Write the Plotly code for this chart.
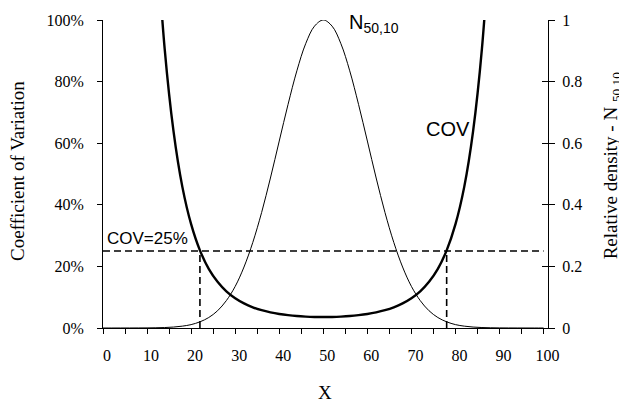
import plotly.graph_objects as go

# ---- data ----
dens_x = [0, 2, 4, 6, 8, 10, 12, 14, 16, 18, 20, 22, 24, 26, 28, 30, 32, 34, 36, 38, 40, 42, 44, 46, 48, 50,
          52, 54, 56, 58, 60, 62, 64, 66, 68, 70, 72, 74, 76, 78, 80, 82, 84, 86, 88, 90, 92, 94, 96, 98, 100]
dens_y = [0.0, 0.0, 0.00003, 0.00006, 0.00015, 0.00034, 0.00073, 0.0015, 0.0031, 0.006, 0.011, 0.020, 0.034,
          0.056, 0.089, 0.135, 0.198, 0.278, 0.375, 0.487, 0.607, 0.726, 0.835, 0.923, 0.980, 1.0,
          0.980, 0.923, 0.835, 0.726, 0.607, 0.487, 0.375, 0.278, 0.198, 0.135, 0.089, 0.056, 0.034, 0.020,
          0.011, 0.006, 0.0031, 0.0015, 0.00073, 0.00034, 0.00015, 0.00006, 0.00003, 0.0, 0.0]

cov_x = [12, 14, 16, 18, 20, 22, 24, 26, 28, 30, 32, 34, 36, 38, 40, 42, 44, 46, 48, 50,
         52, 54, 56, 58, 60, 62, 64, 66, 68, 70, 72, 74, 76, 78, 80, 82, 84, 86, 88]
cov_y = [1.31, 0.906, 0.639, 0.459, 0.337, 0.252, 0.192, 0.150, 0.119, 0.0965, 0.0798, 0.0673, 0.058, 0.0509,
         0.0456, 0.0417, 0.0388, 0.037, 0.0359, 0.0355, 0.0359, 0.037, 0.0388, 0.0417, 0.0456, 0.0509, 0.058,
         0.0673, 0.0798, 0.0965, 0.119, 0.150, 0.192, 0.252, 0.337, 0.459, 0.639, 0.906, 1.31]

cov_limit = 0.25
limit_x_span = [0, 100]
cross_left = 22
cross_right = 78

left_ticks = [0, 0.2, 0.4, 0.6, 0.8, 1.0]
left_ticktext = ["0%", "20%", "40%", "60%", "80%", "100%"]
right_ticks = [0, 0.2, 0.4, 0.6, 0.8, 1.0]
right_ticktext = ["0", "0.2", "0.4", "0.6", "0.8", "1"]

SERIF = "Liberation Serif, Times New Roman, serif"
SANS = "Liberation Sans, Arial, sans-serif"

fig = go.Figure()

dash_style = dict(color="black", width=1.6, dash="7px,4px")
fig.add_trace(go.Scatter(x=limit_x_span, y=[cov_limit, cov_limit], mode="lines",
                         line=dash_style, showlegend=False))
fig.add_trace(go.Scatter(x=[cross_left, cross_left], y=[0, cov_limit], mode="lines",
                         line=dash_style, showlegend=False))
fig.add_trace(go.Scatter(x=[cross_right, cross_right], y=[0, cov_limit], mode="lines",
                         line=dash_style, showlegend=False))

# density (right axis)
fig.add_trace(go.Scatter(x=dens_x, y=dens_y, mode="lines", yaxis="y2",
                         line=dict(color="black", width=1, shape="spline"), showlegend=False))
# COV (left axis)
fig.add_trace(go.Scatter(x=cov_x, y=cov_y, mode="lines",
                         line=dict(color="black", width=2.4, shape="spline"), showlegend=False))
# empty trace to carry the inner-tick axis
fig.add_trace(go.Scatter(x=[None], y=[None], yaxis="y3", showlegend=False, hoverinfo="skip"))

tickfont = dict(family=SERIF, size=16, color="black")

fig.update_layout(
    width=619, height=403,
    margin=dict(l=103, r=71, t=15, b=75),
    paper_bgcolor="white", plot_bgcolor="white",
    showlegend=False,
    xaxis=dict(range=[0, 101], tick0=0, dtick=10, ticks="outside", ticklen=5, tickcolor="black",
               showline=True, linecolor="black", linewidth=1, showgrid=False, zeroline=False,
               tickfont=tickfont, ticklabelshift=4, ticklabelstandoff=8,
               minor=dict(dtick=5, ticks="outside", ticklen=5, tickcolor="black", showgrid=False)),
    yaxis=dict(range=[0, 1], tickvals=left_ticks, ticktext=left_ticktext, ticks="outside", ticklen=5,
               tickcolor="black", showline=True, linecolor="black", linewidth=1, showgrid=False,
               zeroline=False, tickfont=tickfont, ticklabelstandoff=10),
    yaxis2=dict(range=[0, 1], overlaying="y", side="right", anchor="x", tickvals=right_ticks,
                ticktext=right_ticktext, ticks="outside", ticklen=6, tickcolor="black", showline=True,
                linecolor="black", linewidth=1, showgrid=False, zeroline=False, tickfont=tickfont,
                ticklabelstandoff=4),
    yaxis3=dict(range=[0, 1], overlaying="y", side="right", anchor="x", tickvals=right_ticks,
                ticks="inside", ticklen=6, tickcolor="black", showline=False, showgrid=False,
                zeroline=False, showticklabels=False),
    annotations=[
        dict(text="N<sub>50,10</sub>", x=55.4, y=0.99, xref="x", yref="y", xanchor="left",
             yanchor="middle", showarrow=False, font=dict(family=SANS, size=20, color="black")),
        dict(text="COV", x=72.9, y=0.646, xref="x", yref="y", xanchor="left", yanchor="middle",
             showarrow=False, font=dict(family=SANS, size=20, color="black")),
        dict(text="COV=25%", x=0.5, y=0.289, xref="x", yref="y", xanchor="left", yanchor="middle",
             showarrow=False, font=dict(family=SANS, size=17, color="black")),
        dict(text="X", x=0.499, y=-0.21, xref="paper", yref="paper", xanchor="center",
             yanchor="middle", showarrow=False, font=dict(family=SERIF, size=19, color="black")),
        dict(text="Coefficient of Variation", x=-0.191, y=0.51, xref="paper", yref="paper",
             xanchor="center", yanchor="middle", textangle=-90, showarrow=False,
             font=dict(family=SERIF, size=19, color="black")),
        dict(text="Relative density - N <sub>50,10</sub>", x=1.143, y=0.527, xref="paper",
             yref="paper", xanchor="center", yanchor="middle", textangle=-90, showarrow=False,
             font=dict(family=SERIF, size=19, color="black")),
    ],
)

fig.write_html("out.html", config={"displayModeBar": False},
               post_script="document.body.style.margin='0';")
